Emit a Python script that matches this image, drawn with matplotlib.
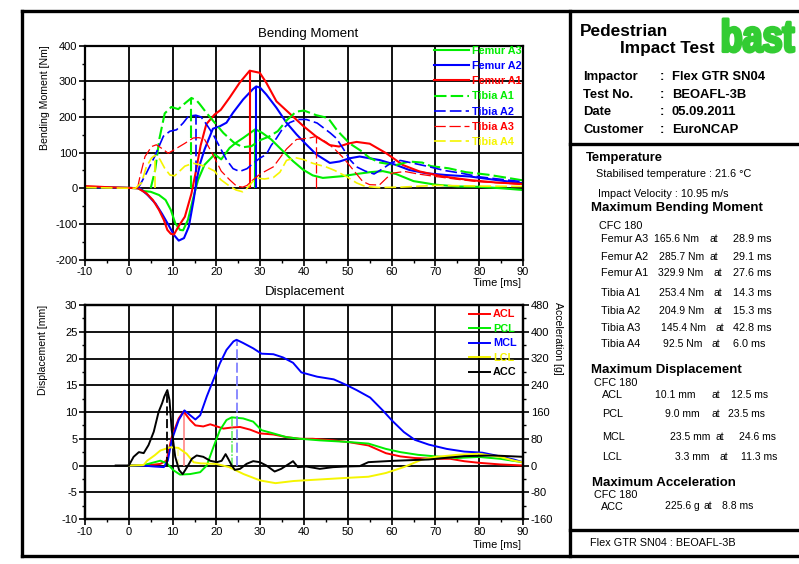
# Pedestrian impact test sheet: bending moment + knee displacement traces
import numpy as np
import matplotlib.pyplot as plt
from matplotlib.font_manager import FontProperties
from matplotlib.textpath import TextPath
from matplotlib.patches import PathPatch
from matplotlib.transforms import Affine2D

plt.rcParams['font.family'] = ['Liberation Sans', 'DejaVu Sans']
plt.rcParams['axes.unicode_minus'] = False

# %% Header / summary data
info_labels = ['Impactor', 'Test No.', 'Date', 'Customer']
info_values = ['Flex GTR SN04', 'BEOAFL-3B', '05.09.2011', 'EuroNCAP']
temperature = 21.6
velocity = 10.95

bm_names = ['Femur A3', 'Femur A2', 'Femur A1', 'Tibia A1', 'Tibia A2', 'Tibia A3', 'Tibia A4']
bm_peak = [165.6, 285.7, 329.9, 253.4, 204.9, 145.4, 92.5]
bm_time = [28.9, 29.1, 27.6, 14.3, 15.3, 42.8, 6.0]

disp_names = ['ACL', 'PCL', 'MCL', 'LCL']
disp_peak = [10.1, 9.0, 23.5, 3.3]
disp_time = [12.5, 23.5, 24.6, 11.3]

acc_name = 'ACC'
acc_peak = 225.6
acc_time = 8.8

# %% Bending moment traces [Nm]
fa3_t = [-10, -5, 0, 2, 3.5, 5, 6.9, 8.4, 9.6, 10.6, 11.7, 12.4, 13.5, 14.6, 15.8, 17.3, 19.6, 21.1, 23, 24.5,
         26.1, 28.9, 30.5, 32.5, 35.2, 37.5, 39.8, 42, 44.3, 48.9, 52, 55, 58, 61, 65, 70, 75, 80, 85, 90]
fa3_m = [3, 2, 1, 0, -8, -10, -19, -33, -61, -98, -117, -118, -89, -33, 23, 66, 95, 81, 113, 128,
         141, 165.6, 155, 137, 104, 76, 52, 36, 29, 34, 40, 45, 48, 40, 20, 10, 5, 4, 0, -5]

fa2_t = [-10, -5, 0, 2.5, 4.3, 6.1, 7.6, 9.1, 10.3, 11.4, 12.6, 13.7, 14.8, 15.5, 16.3, 17.3, 19.2, 20.8, 22.3,
         23.8, 26.1, 28.4, 29.1, 30, 31.4, 33.7, 36, 38.3, 40.5, 42.8, 45.9, 48.1, 50.4, 52.7, 57.3, 61.1,
         64.1, 67.9, 72.5, 77.8, 83.9, 90]
fa2_m = [3, 2, 1, 0, -19, -43, -72, -104, -131, -147, -140, -108, -33, 24, 70, 109, 167, 174, 184,
         212, 249, 279, 285.7, 282, 263, 226, 184, 151, 123, 95, 71, 75, 84, 89, 79, 65,
         51, 42, 37, 33, 23, 14]

fa1_t = [-10, -8, -5, 0, 2.1, 4, 5.5, 6.9, 8, 8.8, 9.6, 10.3, 11.3, 12.8, 14.3, 15.2, 16.4, 17.7, 19.6, 21,
         23, 25.3, 27.6, 29.9, 31.4, 33.7, 36.7, 39.8, 42.8, 45.9, 48, 50, 52, 55, 58.8, 62.6, 66.4,
         71.7, 77.8, 83.9, 90]
fa1_m = [6, 5, 3, 1, 0, -14, -33, -61, -89, -117, -128, -130, -108, -80, -15, 40, 120, 180, 207, 220,
         254, 296, 329.9, 324, 296, 244, 210, 175, 145, 121, 117, 125, 130, 125, 98, 65, 47,
         33, 23, 16, 12]

ta1_t = [5, 6, 7, 8.2, 9.7, 11.3, 12.5, 14.3, 15.5, 16.2, 17.7, 19.6, 21.6, 24, 26, 28, 30, 32, 34, 36,
         38.2, 40, 42.8, 45.5, 47.4, 48.5, 50.5, 53, 55, 57.3, 61, 64, 67, 69, 73, 77, 82, 86, 90]
ta1_m = [0, 50, 140, 210, 228, 222, 235, 253.4, 246, 236, 212, 184, 155, 128, 115, 118, 135, 145, 160, 190,
         215, 218, 205, 197, 165, 150, 125, 105, 85, 72, 65, 75, 72, 62, 56, 45, 38, 30, 22]

ta2_t = [2, 2.5, 4, 5.9, 7.9, 9.4, 10.9, 12.4, 13.6, 15.3, 16.5, 17.7, 19.3, 20.8, 22.3, 23.8, 25.3, 27,
         28.4, 30, 31.4, 32.5, 33.7, 35, 36.7, 38.5, 40.5, 43, 44.5, 46, 47.4, 49, 50.5, 52, 54, 56, 58,
         60, 62, 65, 68, 72, 76, 80, 85, 90]
ta2_m = [0, 8, 42, 89, 146, 160, 164, 183, 202, 204.9, 200, 180, 150, 115, 80, 55, 47, 55,
         70, 85, 95, 120, 140, 165, 184, 193, 193, 183, 169, 155, 140, 110, 80, 60, 48, 40, 55,
         72, 78, 70, 62, 50, 42, 32, 25, 18]

ta3_t = [2, 2.5, 3.7, 5.2, 6.3, 7.5, 9, 10.9, 12.8, 14.7, 16, 17.3, 18.5, 19.6, 21.1, 23, 24.6, 26, 27,
         28, 30, 33, 36, 38.3, 41.3, 42.8, 45, 47, 49, 51, 53.4, 55, 57.2, 60, 63, 66, 70, 75, 80, 85, 90]
ta3_m = [0, 30, 89, 117, 122, 112, 98, 112, 126, 141, 142, 137, 110, 85, 48, 24, 6, 3, 8,
         20, 40, 60, 110, 137, 141, 145.4, 130, 110, 85, 55, 19, 10, 9, 42, 47, 40, 33, 25, 18, 15, 10]

ta4_t = [-10, -5, 0, 1.5, 2.9, 4, 5.2, 6, 7.1, 8.2, 9.4, 10.5, 11.6, 12.8, 14.7, 16.2, 17.7, 19.6, 21, 23,
         24.5, 26, 27, 28.3, 29.5, 31, 33, 34.5, 36, 38, 40, 42, 45, 47, 49.8, 52, 54, 57, 62, 70, 80, 90]
ta4_m = [2, 1, 0, 0, 15, 60, 85, 92.5, 81, 56, 37, 35, 48, 62, 70, 66, 60, 48, 24, 6,
         -5, -10, 0, 19, 28, 26, 30, 45, 78, 86, 80, 70, 60, 50, 32, 15, 5, 2, 3, 8, 6, 5]

# %% Displacement traces [mm] and acceleration [g]
acl_t = [0, 3, 5, 7.2, 8.6, 9.8, 11.4, 12.5, 14, 15.2, 17, 18.6, 20.1, 21.6, 23.5, 25.4, 27.7, 29.9, 33,
         36, 39, 42, 46.6, 50, 54.7, 58.7, 62, 65.3, 70.1, 73.4, 76.6, 80, 84.8, 90]
acl_d = [0, 0, 0.1, 0.3, 0.9, 5.3, 8.8, 10.1, 8.5, 7.5, 7.3, 7.7, 7.3, 6.9, 7.1, 7.2, 6.7, 6.0, 5.8,
         5.3, 5.0, 5.0, 4.7, 4.4, 3.75, 2.3, 1.7, 1.4, 1.25, 1.25, 0.8, 0.5, 0.2, 0.0]

pcl_t = [0, 3, 4.9, 7.2, 8.7, 10.2, 11.7, 14, 16.3, 17.8, 19.3, 20.8, 22.3, 23.5, 26.1, 28.4, 30.3, 33,
         36, 39, 43.6, 50, 54.7, 58.7, 62, 66, 70.1, 75, 79.9, 84.8, 90]
pcl_d = [0, 0, 0.4, 0.9, 0.4, -0.9, -1.7, -1.6, -1.25, 0, 3.4, 6.6, 8.5, 9.0, 8.8, 8.2, 6.6, 6.0,
         5.3, 5.0, 4.7, 4.4, 4.1, 3.1, 2.5, 2.0, 1.7, 1.4, 1.6, 1.25, 0.6]

mcl_t = [0, 3, 6, 8, 8.9, 9.8, 11.4, 12.7, 14, 15.2, 16.3, 17.8, 19.3, 20.8, 22.3, 23.9, 24.6, 26.1, 28.4,
         30.3, 33, 35.2, 37.5, 39.4, 43, 46.8, 49.8, 52, 55.1, 58.1, 60.1, 62.8, 65.3, 68.5, 72.6, 76.6,
         80.7, 84.8, 88, 90]
mcl_d = [0, 0, -0.2, -0.3, 0.9, 4.7, 8.5, 10.3, 9.4, 8.6, 9.4, 12.9, 16, 19.1, 21.6, 23.2, 23.5, 22.9, 21.9,
         20.9, 20.8, 20.2, 19.2, 17.4, 16.6, 16.1, 15.0, 14.1, 12.7, 10.2, 8.4, 6.25, 4.8, 3.9, 3.1, 2.6,
         2.4, 1.7, 1.1, 0.6]

lcl_t = [0, 3.4, 4.2, 5.9, 7.2, 8.3, 9.5, 11.3, 13.2, 14.8, 16.4, 20, 22.9, 26.2, 30, 33.5, 37.6, 41.7,
         50, 54.7, 58.7, 62.8, 66.9, 70.1, 75, 79.9, 84.8, 88, 90]
lcl_d = [0, 0.1, 0.9, 1.9, 2.8, 3.1, 3.4, 3.3, 2.2, 0.6, 0.4, 0.3, -0.3, -1.6, -2.8, -3.3, -2.9, -2.7,
         -2.3, -2.1, -1.4, -0.3, 1.1, 1.6, 2.0, 2.2, 1.6, 0.9, 0.6]

acc_t = [-3, 0, 1.1, 2.3, 3.4, 4.5, 5.7, 6.8, 7.6, 8.1, 8.8, 9.3, 9.8, 10.6, 11.5, 12.3, 13.3, 14.4, 15.5,
         17, 18.6, 20.1, 21.2, 22.1, 22.7, 23.5, 24.2, 25.4, 26.9, 28.4, 29.9, 31.4, 33.3, 34.8, 36.7,
         37.5, 38.6, 40.5, 43.6, 46.6, 49.6, 52.7, 54.7, 60.4, 68.5, 76.6, 83.2, 90]
acc_g = [0, 0, 26, 40, 37, 61, 101, 160, 186, 206, 225.6, 195, 106, 26, -14, -26, -5, 20, 30,
         26, 14, 10, 14, 34, 20, 0, -13, -10, 5, 13, 10, 0, -18, -10, 6,
         13, -5, -3, -10, -5, -3, -2, 10, 14, 18, 28, 30, 26]

# %% Styles
RED, BLUE, GREEN, YELLOW = '#ff0000', '#0000ff', '#00ee00', '#f5f500'
bm_series = [(fa3_t, fa3_m), (fa2_t, fa2_m), (fa1_t, fa1_m),
             (ta1_t, ta1_m), (ta2_t, ta2_m), (ta3_t, ta3_m), (ta4_t, ta4_m)]
bm_colors = [GREEN, BLUE, RED, GREEN, BLUE, RED, YELLOW]
bm_lw = [1.5, 1.5, 1.5, 1.5, 1.2, 0.9, 1.2]
bm_ls = ['-', '-', '-', (0, (6, 2)), (0, (7, 2.5)), (0, (9, 3)), (0, (7, 2.5))]

disp_series = [(acl_t, acl_d), (pcl_t, pcl_d), (mcl_t, mcl_d), (lcl_t, lcl_d)]
disp_colors = [RED, GREEN, BLUE, YELLOW]
disp_peak_colors = ['#ff8888', '#66ee66', '#7777ff', '#ffff99']
disp_peak_ls = ['-', (0, (5, 1, 1, 1)), (0, (6, 2)), (0, (4, 2))]

W, H = 799, 564
fig = plt.figure(figsize=(W / 100, H / 100), dpi=100)


def add_ax(left, top, right, bottom):
    return fig.add_axes([left / W, 1 - bottom / H, (right - left) / W, (bottom - top) / H])


def setup(ax, lo, hi, step, minor):
    ax.set_xlim(-10, 90)
    ax.set_ylim(lo, hi)
    ax.set_xticks(np.arange(-10, 91, 10))
    ax.set_xticks(np.arange(-10, 91, 5), minor=True)
    ax.set_yticks(np.arange(lo, hi + step / 2, step))
    ax.set_yticks(np.arange(lo, hi + minor / 2, minor), minor=True)
    ax.grid(True, which='major', color='black', lw=1.3)
    ax.set_axisbelow(True)
    ax.tick_params(which='major', length=4, width=1.2, labelsize=8, pad=1.5)
    ax.tick_params(which='minor', length=2.5, width=1)
    for s in ax.spines.values():
        s.set_linewidth(1.6)


legend_font = FontProperties(family='Liberation Sans', weight='bold', size=7.8)

# %% Bending moment
ax_t = add_ax(85, 45.7, 523, 259.5)
setup(ax_t, -200, 400, 100, 50)
handles = []
for (t, m), c, lw, ls, tp, pk in zip(bm_series, bm_colors, bm_lw, bm_ls, bm_time, bm_peak):
    ln, = ax_t.plot(t, m, color=c, lw=lw, ls=ls)
    ax_t.vlines(tp, 0, pk, color=c, lw=lw, ls=ls)
    handles.append(ln)
leg = ax_t.legend(handles, bm_names, loc='upper right', bbox_to_anchor=(1.0, 1.005), frameon=False,
                  handlelength=3.2, handletextpad=0.3, labelspacing=0.48, borderpad=0.1,
                  borderaxespad=0, prop=legend_font)
for txt, c in zip(leg.get_texts(), bm_colors):
    txt.set_color(c)

# %% Displacement + acceleration
ax_b = add_ax(85, 305, 523, 519)
setup(ax_b, -10, 30, 5, 2.5)
ax_a = ax_b.twinx()
ax_a.set_ylim(-160, 480)
ax_a.set_yticks(np.arange(-160, 481, 80))
ax_a.set_yticks(np.arange(-160, 481, 40), minor=True)
ax_a.tick_params(which='major', length=4, width=1.2, labelsize=8, pad=1.5)
ax_a.tick_params(which='minor', length=2.5, width=1)
for s in ax_a.spines.values():
    s.set_linewidth(1.6)

handles = []
for (t, d), c, pc, pls, tp, pk in zip(disp_series, disp_colors, disp_peak_colors, disp_peak_ls,
                                      disp_time, disp_peak):
    ax_b.vlines(tp, 0, pk, color=pc, lw=1.2, ls=pls)
    ln, = ax_b.plot(t, d, color=c, lw=1.4)
    handles.append(ln)
ax_a.vlines(acc_time, 0, acc_peak, color='black', lw=1.3, ls=(0, (5, 2)))
ln, = ax_a.plot(acc_t, acc_g, color='black', lw=1.4)
handles.append(ln)
leg = ax_a.legend(handles, disp_names + [acc_name], loc='upper right', bbox_to_anchor=(0.988, 0.985),
                  frameon=False, handlelength=1.9, handletextpad=0.3, labelspacing=0.42,
                  borderpad=0.1, borderaxespad=0, prop=legend_font)
for txt, c in zip(leg.get_texts(), disp_colors + ['black']):
    txt.set_color(c)

# %% Overlay in pixel coordinates: frames, titles, report panel
ov = fig.add_axes([0, 0, 1, 1])
ov.set_xlim(0, W)
ov.set_ylim(H, 0)
ov.axis('off')

kw = dict(color='black', lw=2.4, solid_capstyle='projecting')
ov.plot([22, W], [11, 11], **kw)
ov.plot([22, 22], [11, 556], **kw)
ov.plot([22, W], [556, 556], **kw)
ov.plot([570, 570], [11, 556], **kw)
ov.plot([570, W], [144, 144], **kw)
ov.plot([570, W], [530, 530], **kw)

ov.text(308, 34, 'Bending Moment', ha='center', va='center', fontsize=9.5)
ov.text(305, 292, 'Displacement', ha='center', va='center', fontsize=9.5)
ov.text(521, 283, 'Time [ms]', ha='right', va='center', fontsize=7.9)
ov.text(521, 545, 'Time [ms]', ha='right', va='center', fontsize=7.9)
ov.text(45, 98, 'Bending Moment [Nm]', ha='center', va='center', rotation=90, fontsize=7.6)
ov.text(43, 350, 'Displacement [mm]', ha='center', va='center', rotation=90, fontsize=7.6)
ov.text(558, 338, 'Acceleration [g]', ha='center', va='center', rotation=270, fontsize=7.6)

# header
ov.text(580, 32, 'Pedestrian', va='center', fontsize=12.4, weight='bold')
ov.text(620, 48, 'Impact Test', va='center', fontsize=12.4, weight='bold')
tp = TextPath((0, 0), 'bast', size=10,
              prop=FontProperties(family='Liberation Sans', weight='bold'))
ext = tp.get_extents()
tr = Affine2D().translate(-ext.x0, -ext.y0).scale(71 / ext.width, -33 / ext.height).translate(723, 52)
ov.add_patch(PathPatch(tr.transform_path(tp), facecolor='#33cc33', edgecolor='#33cc33',
                       lw=2.2, joinstyle='round'))

for i, (lab, val) in enumerate(zip(info_labels, info_values)):
    y = 77 + i * 17.7
    ov.text(583, y, lab, va='center', fontsize=9.4, weight='bold')
    ov.text(660, y, ':', va='center', fontsize=9.4, weight='bold')
    ov.text(672, y, val, va='center', fontsize=9.4, weight='bold')

# results
fs = 7.8
fv = 7.5
ov.text(586, 158, 'Temperature', va='center', fontsize=9.3, weight='bold')
ov.text(596, 174, f'Stabilised temperature : {temperature} °C', va='center', fontsize=fs)
ov.text(598, 194, f'Impact Velocity : {velocity} m/s', va='center', fontsize=fs)
ov.text(591, 208, 'Maximum Bending Moment', va='center', fontsize=9.5, weight='bold')
ov.text(599, 226, 'CFC 180', va='center', fontsize=fs)
bm_y = [239, 257, 273, 293, 311, 328, 344]
bm_vx = [654, 659, 658, 659, 659, 661, 663]
bm_ax = [709, 710, 713, 714, 714, 715, 712]
for name, pk, tp_, y, vx, axx in zip(bm_names, bm_peak, bm_time, bm_y, bm_vx, bm_ax):
    ov.text(601, y, name, va='center', fontsize=fs)
    ov.text(vx, y, f'{pk:.1f} Nm', va='center', fontsize=fv)
    ov.text(axx, y, 'at', va='center', fontsize=fv)
    ov.text(733, y, f'{tp_:.1f} ms', va='center', fontsize=fs)

ov.text(591, 370, 'Maximum Displacement', va='center', fontsize=9.5, weight='bold')
ov.text(594, 383, 'CFC 180', va='center', fontsize=fs)
d_y = [395, 414, 437, 457]
d_vx = [655, 665, 670, 675]
d_ax = [711, 711, 716, 720]
d_tx = [731, 728, 739, 741]
for name, pk, tp_, y, vx, axx, tx in zip(disp_names, disp_peak, disp_time, d_y, d_vx, d_ax, d_tx):
    ov.text(602, y, name, va='center', fontsize=fs)
    ov.text(vx, y, f'{pk:.1f} mm', va='center', fontsize=fv)
    ov.text(axx, y, 'at', va='center', fontsize=fv)
    ov.text(tx, y, f'{tp_:.1f} ms', va='center', fontsize=fv)

ov.text(592, 483, 'Maximum Acceleration', va='center', fontsize=9.5, weight='bold')
ov.text(594, 495, 'CFC 180', va='center', fontsize=fs)
ov.text(601, 507, acc_name, va='center', fontsize=fs)
ov.text(665, 506, f'{acc_peak:.1f} g', va='center', fontsize=fv)
ov.text(704, 506, 'at', va='center', fontsize=fv)
ov.text(722, 506, f'{acc_time:.1f} ms', va='center', fontsize=fv)

ov.text(590, 543, f'{info_values[0]} : {info_values[1]}', va='center', fontsize=fs)

fig.savefig('out.png', dpi=100)
